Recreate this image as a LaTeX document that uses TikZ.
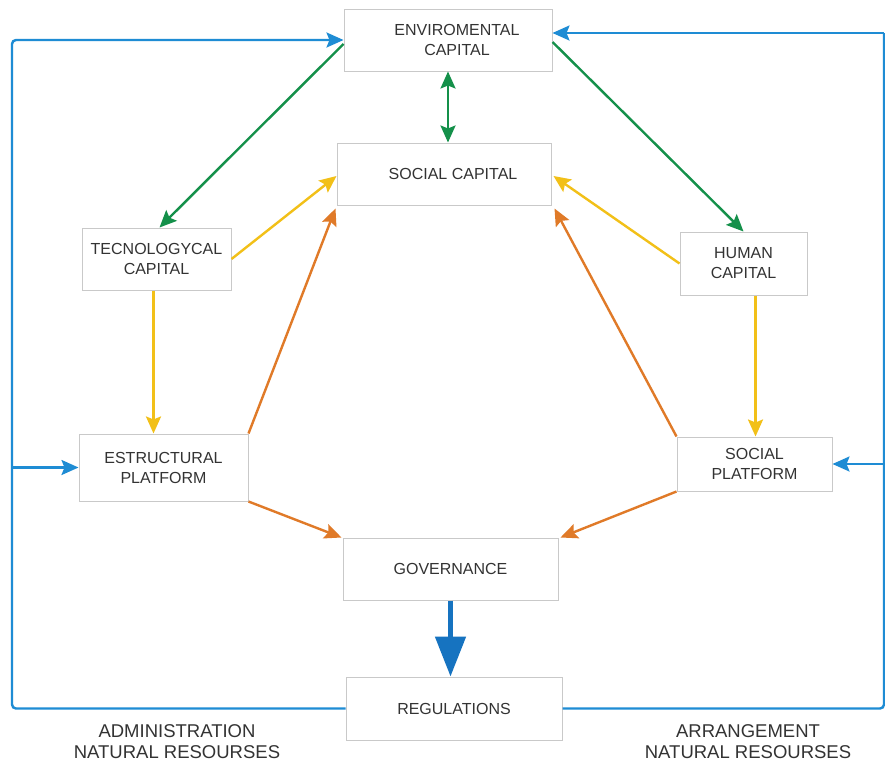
\documentclass[tikz,border=0pt]{standalone}
\usepackage{fontspec}
\setmainfont{Liberation Sans}
\usetikzlibrary{arrows.meta,calc}
\definecolor{flowblue}{HTML}{1E8CD4}
\definecolor{govblue}{HTML}{1673C0}
\definecolor{envgreen}{HTML}{14904A}
\definecolor{capyellow}{HTML}{F2C018}
\definecolor{platorange}{HTML}{E07A28}
\definecolor{boxgray}{HTML}{C9C9C9}
\definecolor{textgray}{HTML}{333333}
\tikzset{
  box/.style={draw=boxgray, line width=1pt, fill=white, inner sep=0pt,
    align=center, text=textgray, font=\fontsize{16}{20}\selectfont},
  arrowtip/.tip={Stealth[length=17pt,width=15pt,inset=3pt]},
  tip/.style={-arrowtip},
  link/.style={line width=2.4pt, tip},
  loop/.style={draw=flowblue, line width=2.4pt, rounded corners=4pt},
  caption/.style={align=center, text=textgray, font=\fontsize{18.5}{21}\selectfont}
}
\begin{document}
\begin{tikzpicture}[x=1pt,y=-1pt]
\useasboundingbox[fill=white] (0,0) rectangle (885,763);

% capital and platform boxes
\node[box, minimum width=208pt, minimum height=62pt] (env) at (448,40) {\hspace*{18pt}ENVIROMENTAL\\\hspace*{18pt}CAPITAL};
\node[box, minimum width=214pt, minimum height=62pt] (sc) at (444,174) {\hspace*{18pt}SOCIAL CAPITAL};
\node[box, minimum width=149pt, minimum height=62pt] (tec) at (156.5,259) {TECNOLOGYCAL\\CAPITAL};
\node[box, minimum width=127pt, minimum height=63pt] (hum) at (743.5,263.5) {HUMAN\\CAPITAL};
\node[box, minimum width=169pt, minimum height=67pt] (est) at (163.5,467.5) {ESTRUCTURAL\\PLATFORM};
\node[box, minimum width=155pt, minimum height=54pt] (sp) at (754.5,464) {SOCIAL\\PLATFORM};
\node[box, minimum width=215pt, minimum height=62pt] (gov) at (450.5,569) {GOVERNANCE};
\node[box, minimum width=216pt, minimum height=63pt] (reg) at (454,708.5) {REGULATIONS};

% feedback loop corners
\coordinate (lb) at (12,708.5);
\coordinate (lt) at (12,40);
\coordinate (lm) at (12,467.5);
\coordinate (rb) at (884,708.5);
\coordinate (rt) at (884,33);
\coordinate (rm) at (884,464);

% start points of the vertical capital links
\coordinate (ts) at ($(tec.south)+(-3,0)$);
\coordinate (hs) at ($(hum.south)+(12,0)$);

% environmental links
\draw[link, envgreen] ($(env.west)+(0,4)$) -- ($(tec.north)+(3,0)$);
\draw[link, envgreen] ($(env.east)+(0,2)$) -- (hum.north);
\draw[link, envgreen, arrowtip-arrowtip] (env.south) -- (env.south |- sc.north);

% capital links
\draw[link, capyellow] (tec.east) -- ($(sc.west)+(0,2)$);
\draw[link, capyellow] (hum.west) -- ($(sc.east)+(2,2)$);
\draw[link, capyellow] (ts) -- (ts |- est.north);
\draw[link, capyellow] (hs) -- (hs |- sp.north);

% platform links
\draw[link, platorange] (est.north east) -- ($(sc.south west)+(-1,3)$);
\draw[link, platorange] (sp.north west) -- ($(sc.south east)+(3,3)$);
\draw[link, platorange] (est.south east) -- ($(gov.north west)+(-1,0)$);
\draw[link, platorange] (sp.south west) -- ($(gov.north east)+(2,0)$);

% governance to regulations
\draw[govblue, line width=5pt, -{Triangle[length=40pt,width=30pt]}] (gov.south) -- (gov.south |- reg.north);

% administration loop
\draw[loop, tip] (reg.west) -- (lb) -- (lt) -- (env.west);
\draw[draw=flowblue, line width=2.4pt, tip] (lm) -- (est.west);

% arrangement loop
\draw[loop] (reg.east) -- (rb) -- (rt);
\draw[draw=flowblue, line width=2.4pt, tip] (rt) -- (env.east |- rt);
\draw[draw=flowblue, line width=2.4pt, tip] (rm) -- (sp.east);

% loop captions
\node[caption] (adm) at (177,742) {ADMINISTRATION\\NATURAL RESOURSES};
\node[caption] (arr) at (748,742) {ARRANGEMENT\\NATURAL RESOURSES};
\end{tikzpicture}
\end{document}
